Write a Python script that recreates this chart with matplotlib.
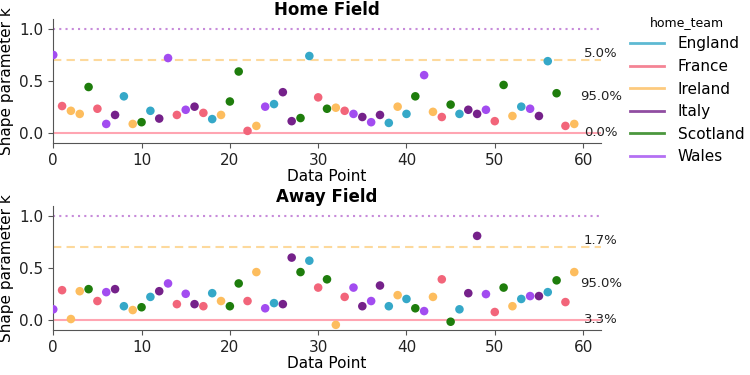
import numpy as np
import matplotlib.pyplot as plt
from matplotlib.lines import Line2D

teams = ['England', 'France', 'Ireland', 'Italy', 'Scotland', 'Wales']
cores = {'England': '#35a8c8', 'France': '#f2657a', 'Ireland': '#fdbd5e',
         'Italy': '#75218a', 'Scotland': '#1e7d0c', 'Wales': '#a24cf0'}

home_team = ['Wales', 'France', 'Ireland', 'Ireland', 'Scotland', 'France', 'Wales', 'Italy', 'England', 'Ireland',
             'Scotland', 'England', 'Italy', 'Wales', 'France', 'Wales', 'Italy', 'France', 'England', 'Ireland',
             'Scotland', 'Scotland', 'France', 'Ireland', 'Wales', 'England', 'Italy', 'Italy', 'Scotland', 'England',
             'France', 'Scotland', 'Ireland', 'France', 'Wales', 'Italy', 'Wales', 'Italy', 'England', 'Ireland',
             'England', 'Scotland', 'Wales', 'Ireland', 'France', 'Scotland', 'England', 'Italy', 'Italy', 'Wales',
             'France', 'Scotland', 'Ireland', 'England', 'Wales', 'Italy', 'England', 'Scotland', 'France', 'Ireland']
k_home = [0.75, 0.256, 0.21, 0.18, 0.44, 0.23, 0.083, 0.17, 0.35, 0.083,
          0.10, 0.21, 0.135, 0.72, 0.17, 0.22, 0.25, 0.19, 0.13, 0.17,
          0.30, 0.59, 0.016, 0.064, 0.25, 0.275, 0.39, 0.11, 0.14, 0.74,
          0.34, 0.23, 0.24, 0.21, 0.18, 0.15, 0.10, 0.17, 0.093, 0.25,
          0.18, 0.35, 0.555, 0.20, 0.15, 0.27, 0.18, 0.22, 0.18, 0.22,
          0.11, 0.46, 0.16, 0.25, 0.23, 0.16, 0.69, 0.38, 0.064, 0.083]

away_team = ['Wales', 'France', 'Ireland', 'Ireland', 'Scotland', 'France', 'Wales', 'Italy', 'England', 'Ireland',
             'Scotland', 'England', 'Italy', 'Wales', 'France', 'Wales', 'Italy', 'France', 'England', 'Ireland',
             'Scotland', 'Scotland', 'France', 'Ireland', 'Wales', 'England', 'Italy', 'Italy', 'Scotland', 'England',
             'France', 'Scotland', 'Ireland', 'France', 'Wales', 'Italy', 'Wales', 'Italy', 'England', 'Ireland',
             'England', 'Scotland', 'Wales', 'Ireland', 'France', 'Scotland', 'England', 'Italy', 'Italy', 'Wales',
             'France', 'Scotland', 'Ireland', 'England', 'Wales', 'Italy', 'England', 'Scotland', 'France', 'Ireland']
k_away = [0.10, 0.285, 0.006, 0.275, 0.295, 0.18, 0.266, 0.295, 0.13, 0.093,
          0.12, 0.22, 0.275, 0.35, 0.15, 0.25, 0.15, 0.13, 0.256, 0.18,
          0.13, 0.35, 0.18, 0.46, 0.11, 0.16, 0.15, 0.60, 0.46, 0.57,
          0.31, 0.39, -0.05, 0.22, 0.31, 0.13, 0.18, 0.33, 0.13, 0.237,
          0.20, 0.11, 0.083, 0.22, 0.39, -0.02, 0.10, 0.256, 0.81, 0.247,
          0.074, 0.31, 0.13, 0.20, 0.228, 0.228, 0.266, 0.38, 0.17, 0.46]

pct_home = ['5.0%', '95.0%', '0.0%']
pct_away = ['1.7%', '95.0%', '3.3%']

plt.rcParams['font.family'] = 'DejaVu Sans'
fig = plt.figure(figsize=(7.5, 3.75), dpi=100)
ax1 = fig.add_axes([0.071, 0.619, 0.73, 0.331])
ax2 = fig.add_axes([0.071, 0.12, 0.73, 0.331])

def painel(ax, titulo, times, valores, pcts):
    x = np.arange(len(valores))
    cs = [cores[t] for t in times]
    ax.axhline(1.0, color='#c17fd6', ls=(0, (1, 2)), lw=1.5, alpha=0.9, zorder=1)
    ax.axhline(0.7, color='#fdd99c', ls=(0, (4, 2.5)), lw=1.5, zorder=1)
    ax.axhline(0.0, color='#ffa5b2', ls='-', lw=1.5, zorder=1)
    ax.scatter(x, valores, c=cs, s=38, linewidths=0, zorder=3)
    ax.text(62, 0.7, pcts[0], ha='center', va='bottom', fontsize=9.5, color='#222222')
    ax.text(62, 0.35, pcts[1], ha='center', va='center', fontsize=9.5, color='#222222')
    ax.text(62, 0.0, pcts[2], ha='center', va='center', fontsize=9.5, color='#222222')
    ax.set_xlim(0, 62)
    ax.set_ylim(-0.1, 1.1)
    ax.set_yticks([0.0, 0.5, 1.0])
    ax.set_xticks([0, 10, 20, 30, 40, 50, 60])
    ax.set_title(titulo, fontsize=12, fontweight='bold', pad=1)
    ax.set_xlabel('Data Point', fontsize=11, labelpad=1)
    ax.set_ylabel('Shape parameter k', fontsize=11)
    ax.tick_params(labelsize=11, color='#555555', labelcolor='#222222', length=3.5)
    for lado in ['top', 'right']:
        ax.spines[lado].set_visible(False)
    for lado in ['left', 'bottom']:
        ax.spines[lado].set_color('#555555')

painel(ax1, 'Home Field', home_team, k_home, pct_home)
painel(ax2, 'Away Field', away_team, k_away, pct_away)

handles = [Line2D([0], [0], color=cores[t], lw=2, alpha=0.8) for t in teams]
fig.legend(handles, teams, title='home_team', loc='upper left', bbox_to_anchor=(0.822, 0.995),
           frameon=False, fontsize=11, title_fontsize=9, handlelength=2.2, labelspacing=0.5,
           handletextpad=0.9)

fig.savefig('out.png', dpi=100)
